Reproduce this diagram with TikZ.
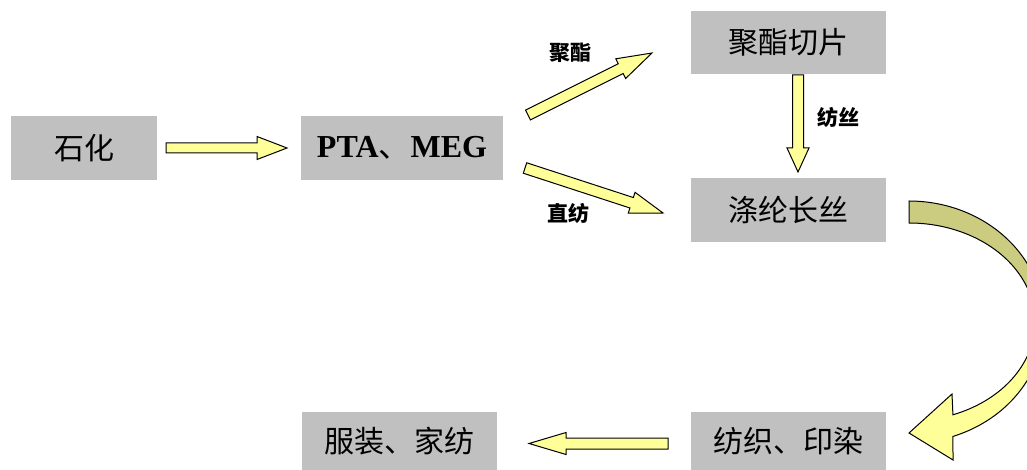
\documentclass[tikz,border=0pt]{standalone}
\usepackage{fontspec}
\setmainfont{Liberation Serif}
\newfontfamily\cjk{Noto Sans CJK SC}
\usetikzlibrary{calc}
\definecolor{boxgray}{HTML}{C0C0C0}
\definecolor{lightyel}{HTML}{FFFF99}
\definecolor{darkyel}{HTML}{CCCC80}
% block arrow: #1 from, #2 to, #3 shaft half width, #4 head half width, #5 head length
\newcommand\barrow[5]{%
  \coordinate (bh) at ($(#2)!#5!(#1)$);
  \draw[blockarrow] ($(#1)!#3!90:(#2)$) -- ($(bh)!#3!-90:(#1)$) -- ($(bh)!#4!-90:(#1)$)
    -- (#2) -- ($(bh)!#4!90:(#1)$) -- ($(bh)!#3!90:(#1)$) -- ($(#1)!#3!-90:(#2)$) -- cycle;}
\tikzset{
  box/.style={fill=boxgray, inner sep=0pt, font=\cjk\fontsize{30}{36}\selectfont},
  blockarrow/.style={draw=black, fill=lightyel, line width=1pt, line join=miter},
  lbl/.style={font=\cjk\bfseries\fontsize{21}{24}\selectfont, inner sep=0pt},
}
\begin{document}
\begin{tikzpicture}[x=1pt,y=-1pt]
\useasboundingbox (0,0) rectangle (1027,470);
\clip (0,0) rectangle (1027,470);
% boxes
\node[box, minimum width=146pt, minimum height=64pt] (shihua) at (84,148) {石化};
\node[box, minimum width=202pt, minimum height=64pt, font=\bfseries\fontsize{32}{36}\selectfont] (pta) at (402,148) {PTA{\cjk\mdseries 、}MEG};
\node[box, minimum width=195pt, minimum height=63pt] (qiepian) at (788.5,42.5) {聚酯切片};
\node[box, minimum width=195pt, minimum height=64pt] (changsi) at (788.5,210) {涤纶长丝};
\node[box, minimum width=195pt, minimum height=58pt] (fangzhi) at (788.5,441) {纺织、印染};
\node[box, minimum width=195pt, minimum height=58pt] (fuzhuang) at (399.5,441) {服装、家纺};
% arrow end points
\coordinate (a1s) at (166,148);  \coordinate (a1e) at (287,148);
\coordinate (a2s) at (528,115);  \coordinate (a2e) at (652,53);
\coordinate (a3s) at (525,168);  \coordinate (a3e) at (663,213);
\coordinate (a4s) at (798,75);   \coordinate (a4e) at (798,172);
\coordinate (a5s) at (668,443.5); \coordinate (a5e) at (529,443.5);
\barrow{a1s}{a1e}{5pt}{11.5pt}{30pt}
\barrow{a2s}{a2e}{5.5pt}{11pt}{35pt}
\barrow{a3s}{a3e}{5.5pt}{11pt}{33pt}
\barrow{a4s}{a4e}{5.5pt}{11pt}{24pt}
\barrow{a5s}{a5e}{5.5pt}{11pt}{37pt}
% labels
\node[lbl] (ljz) at (570,53) {聚酯};
\node[lbl] (lzf) at (568,213) {直纺};
\node[lbl] (lfs) at (838,117) {纺丝};
% curved arrow
\fill[darkyel] plot[domain=90:0, samples=40] ({909+135*cos(\x)},{322-121*sin(\x)})
  -- plot[domain=0:90, samples=40] ({909+126*cos(\x)},{322-99*sin(\x)}) -- cycle;
\fill[lightyel] plot[domain=0:-71, samples=40] ({909+135*cos(\x)},{322-121*sin(\x)})
  -- (953,460) -- (909,433) -- (952,394)
  -- plot[domain=-69.6:0, samples=40] ({909+126*cos(\x)},{322-99*sin(\x)}) -- cycle;
\draw[line width=1pt, line join=miter] plot[domain=90:-71, samples=80] ({909+135*cos(\x)},{322-121*sin(\x)})
  -- (953,460) -- (909,433) -- (952,394)
  -- plot[domain=-69.6:90, samples=80] ({909+126*cos(\x)},{322-99*sin(\x)}) -- cycle;
\end{tikzpicture}
\end{document}
